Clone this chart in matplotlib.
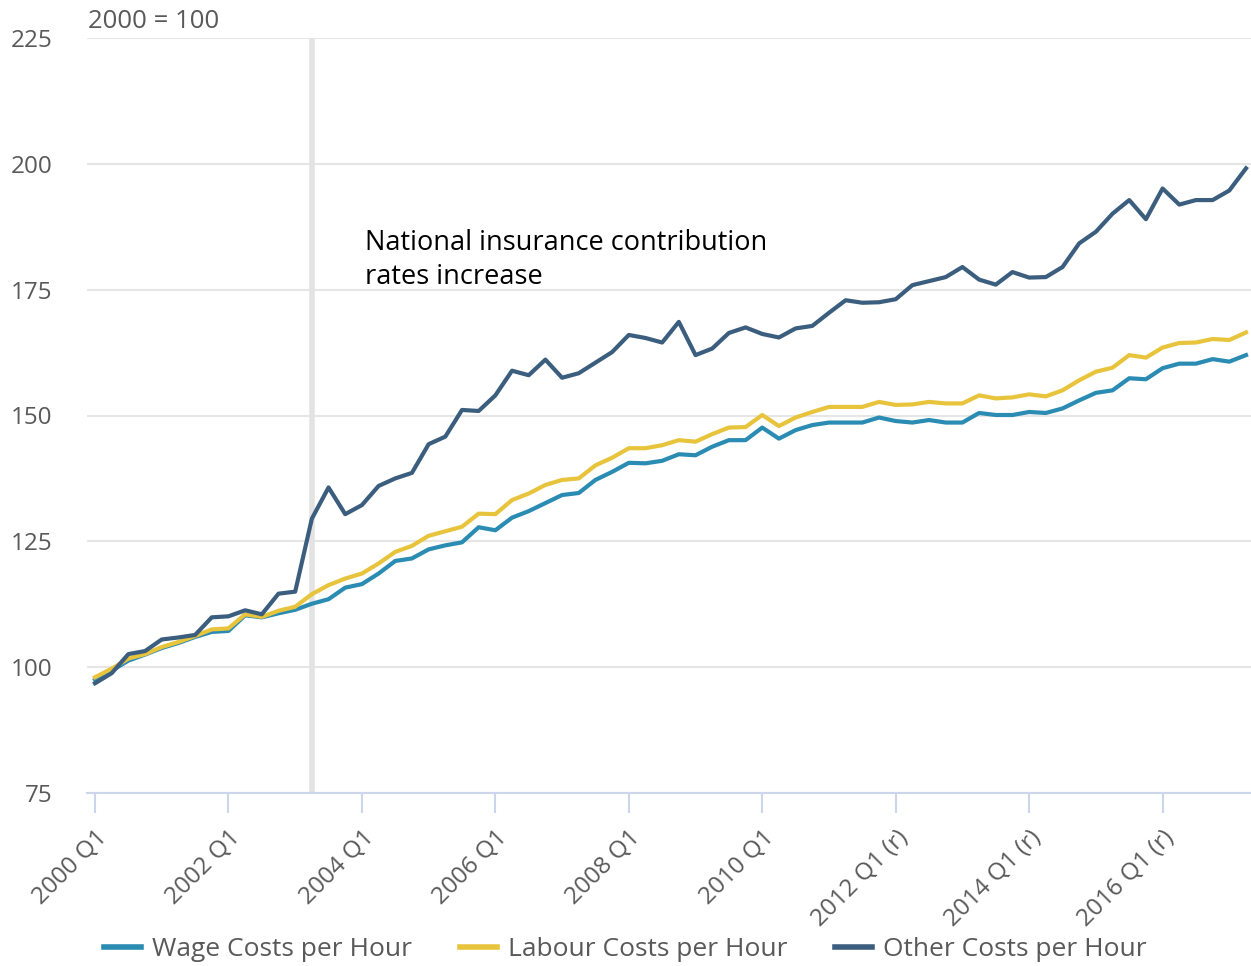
import matplotlib
matplotlib.use("Agg")
import matplotlib.pyplot as plt

# quarters 2000 Q1 .. 2017 Q2
quarters = []
for yr in range(2000, 2018):
  for q in range(1, 5):
    quarters.append(f"{yr} Q{q}")
quarters = quarters[:70]

wage = [97.5, 99.3, 101.3, 102.5, 103.8, 104.8, 106.0, 107.0, 107.2, 110.3,
        109.9, 110.7, 111.4, 112.6, 113.5, 115.8, 116.5, 118.6, 121.1, 121.6,
        123.4, 124.2, 124.8, 127.8, 127.2, 129.7, 131.0, 132.6, 134.2, 134.6,
        137.2, 138.8, 140.6, 140.5, 141.0, 142.3, 142.1, 143.8, 145.1, 145.1,
        147.6, 145.4, 147.1, 148.1, 148.6, 148.6, 148.6, 149.6, 148.9, 148.6,
        149.1, 148.6, 148.6, 150.5, 150.1, 150.1, 150.7, 150.5, 151.4, 153.0,
        154.5, 155.0, 157.4, 157.2, 159.4, 160.3, 160.3, 161.2, 160.7, 162.0]

labour = [98.0, 99.7, 101.7, 102.6, 104.0, 105.0, 106.2, 107.5, 107.7, 110.5,
          110.0, 111.2, 112.0, 114.5, 116.3, 117.6, 118.6, 120.6, 122.9, 124.1,
          126.1, 127.0, 127.9, 130.5, 130.4, 133.2, 134.5, 136.2, 137.2, 137.5,
          140.1, 141.6, 143.5, 143.5, 144.1, 145.1, 144.8, 146.3, 147.6, 147.7,
          150.1, 147.9, 149.6, 150.7, 151.7, 151.7, 151.7, 152.7, 152.1, 152.2,
          152.7, 152.4, 152.4, 154.0, 153.4, 153.6, 154.2, 153.8, 155.0, 157.0,
          158.7, 159.5, 162.0, 161.5, 163.5, 164.4, 164.5, 165.2, 165.0, 166.5]

other = [96.8, 98.8, 102.6, 103.2, 105.5, 105.9, 106.4, 109.9, 110.1, 111.3,
         110.5, 114.6, 115.0, 129.5, 135.7, 130.4, 132.2, 136.0, 137.5, 138.6,
         144.3, 145.8, 151.1, 150.9, 154.0, 158.9, 158.0, 161.1, 157.5, 158.4,
         160.5, 162.6, 166.0, 165.4, 164.5, 168.6, 162.0, 163.3, 166.4, 167.5,
         166.2, 165.5, 167.3, 167.8, 170.4, 172.9, 172.4, 172.5, 173.1, 175.9,
         176.7, 177.5, 179.5, 177.0, 176.0, 178.5, 177.4, 177.5, 179.5, 184.2,
         186.5, 190.1, 192.8, 189.0, 195.1, 191.9, 192.8, 192.8, 194.7, 199.1]

tick_labels = ["2000 Q1", "2002 Q1", "2004 Q1", "2006 Q1", "2008 Q1",
               "2010 Q1", "2012 Q1 (r)", "2014 Q1 (r)", "2016 Q1 (r)"]
tick_pos = list(range(0, 70, 8))

plt.rcParams['font.family'] = ['Open Sans', 'DejaVu Sans']
grey_txt = '#595959'

fig = plt.figure(figsize=(12.51, 9.66), dpi=100)
ax = fig.add_axes([87/1251, 1 - 793/966, 1 - 87/1251, (793 - 38)/966])

x = list(range(len(quarters)))
ax.plot(x, wage, color='#2a8bb3', lw=3, label='Wage Costs per Hour', zorder=3)
ax.plot(x, labour, color='#e8c43c', lw=3, label='Labour Costs per Hour', zorder=4)
ax.plot(x, other, color='#3c5e7e', lw=3, label='Other Costs per Hour', zorder=5)

# plot line for NI change (2003 Q2)
ax.axvline(quarters.index("2003 Q2"), color='#e3e3e3', lw=4, zorder=1)
ax.text(16.2, 187.0, "National insurance contribution\nrates increase",
        fontsize=19.5, color='black', va='top', ha='left', linespacing=1.25)

ax.set_ylim(75, 225)
ax.set_xlim(-0.48, 69.3)
ax.set_yticks([75, 100, 125, 150, 175, 200, 225])
ax.yaxis.grid(True, color='#e6e6e6', lw=1.5)
ax.set_axisbelow(True)
ax.tick_params(axis='y', length=0, labelsize=17.5, labelcolor=grey_txt, pad=25)

ax.set_xticks(tick_pos)
ax.set_xticklabels(tick_labels, rotation=45, ha='right', rotation_mode='anchor')
ax.tick_params(axis='x', length=14.4, width=1.5, color='#ccd6eb', labelsize=17.5,
               labelcolor=grey_txt, pad=9)

for s in ['top', 'right', 'left']:
  ax.spines[s].set_visible(False)
ax.spines['bottom'].set_color('#ccd6eb')
ax.spines['bottom'].set_linewidth(1.5)

fig.text(88/1251, 1 - 22/966, "2000 = 100", fontsize=18.5, color=grey_txt,
         va='center', ha='left')

leg = fig.legend(loc='center', bbox_to_anchor=(0.5, 1 - 950/966), ncol=3,
                 frameon=False, fontsize=19, handlelength=1.4,
                 columnspacing=1.8, handletextpad=0.42)
for t in leg.get_texts():
  t.set_color(grey_txt)
for h in leg.legend_handles:
  h.set_linewidth(4)

fig.savefig("out.png", dpi=100)
